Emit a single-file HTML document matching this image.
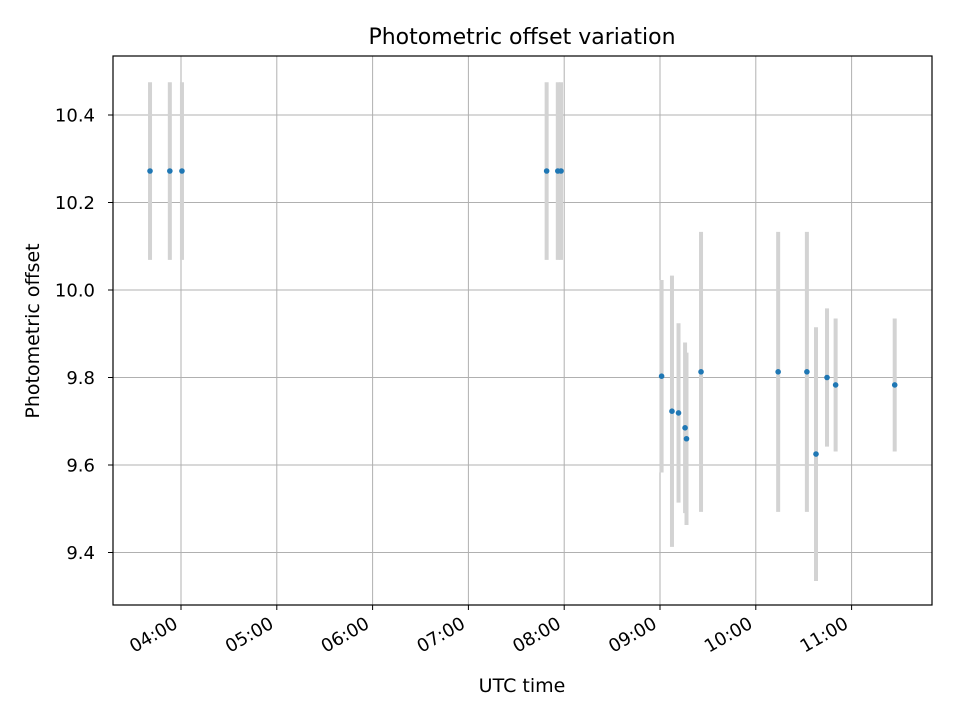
<!DOCTYPE html>
<html><head><meta charset="utf-8"><style>
html,body{margin:0;padding:0;background:#fff;}
svg text{font-family:"DejaVu Sans","Liberation Sans",sans-serif;fill:#000;}
</style></head><body>
<svg id="chart" width="960" height="720" viewBox="0 0 960 720" xmlns="http://www.w3.org/2000/svg">
<rect width="960" height="720" fill="#fff"/>
<text x="522" y="44" font-size="22" text-anchor="middle">Photometric offset variation</text>
<text x="522" y="692" font-size="19" text-anchor="middle">UTC time</text>
<text transform="translate(39,331) rotate(-90)" font-size="19" text-anchor="middle">Photometric offset</text>
<g id="grid"></g><g id="bars"></g><g id="pts"></g><g id="ticks"></g>
<rect x="113" y="56" width="819" height="549" fill="none" stroke="#000" stroke-width="1.2"/>
</svg>
<script>
// times in minutes after 00:00 UTC
const times = [220.6,233,240.6,469,476,478,541,547.5,551.6,555.7,556.6,565.7,614,632,637.7,644.6,650,687];
const offsets = [10.272,10.272,10.272,10.272,10.272,10.272,9.803,9.723,9.719,9.685,9.66,9.813,9.813,9.813,9.625,9.80,9.783,9.783];
const errors = [0.203,0.203,0.203,0.203,0.203,0.203,0.22,0.31,0.205,0.195,0.197,0.32,0.32,0.32,0.29,0.158,0.152,0.152];
const xTickLabels = ["04:00","05:00","06:00","07:00","08:00","09:00","10:00","11:00"];
const xTickMinutes = [240,300,360,420,480,540,600,660];
const yTicks = [9.4,9.6,9.8,10.0,10.2,10.4];
const yTickLabels = ["9.4","9.6","9.8","10.0","10.2","10.4"];

const L=113,R=932,T=56,B=605;
const xs = m => 181 + (m-240)*(95.8/60);
const ys = v => 290 - (v-10)*437.5;
const NS="http://www.w3.org/2000/svg";
function mk(tag,parent,attrs){const e=document.createElementNS(NS,tag);for(const k in attrs)e.setAttribute(k,attrs[k]);document.getElementById(parent).appendChild(e);return e;}

xTickMinutes.forEach((m,i)=>{
  const x=xs(m);
  const g=mk('line','grid',{x1:x,x2:x,y1:T,y2:B,stroke:'#b0b0b0','stroke-width':1});
  
  
  const t=mk('line','ticks',{x1:x,x2:x,y1:B,y2:B+5,stroke:'#000','stroke-width':1});
  
  
  const tx=mk('text','ticks',{transform:`translate(${x-2},${B+22}) rotate(-30)`,'font-size':18,'text-anchor':'end'});
  tx.textContent=xTickLabels[i];
  
  
});
yTicks.forEach((v,i)=>{
  const y=ys(v);
  const g=mk('line','grid',{x1:L,x2:R,y1:y,y2:y,stroke:'#b0b0b0','stroke-width':1});
  
  
  const t=mk('line','ticks',{x1:L-5,x2:L,y1:y,y2:y,stroke:'#000','stroke-width':1});
  
  
  const tx=mk('text','ticks',{x:L-18,y:y+6.5,'font-size':18,'text-anchor':'end'});
  tx.textContent=yTickLabels[i];
  
  
});
times.forEach((m,i)=>{
  const x=xs(m);
  const b=mk('line','bars',{x1:x,x2:x,y1:ys(offsets[i]+errors[i]),y2:ys(offsets[i]-errors[i]),stroke:'#d3d3d3','stroke-width':4});
  
  
  const p=mk('circle','pts',{cx:x,cy:ys(offsets[i]),r:2.8,fill:'#1f77b4'});
  
  
});
</script>
</body></html>
